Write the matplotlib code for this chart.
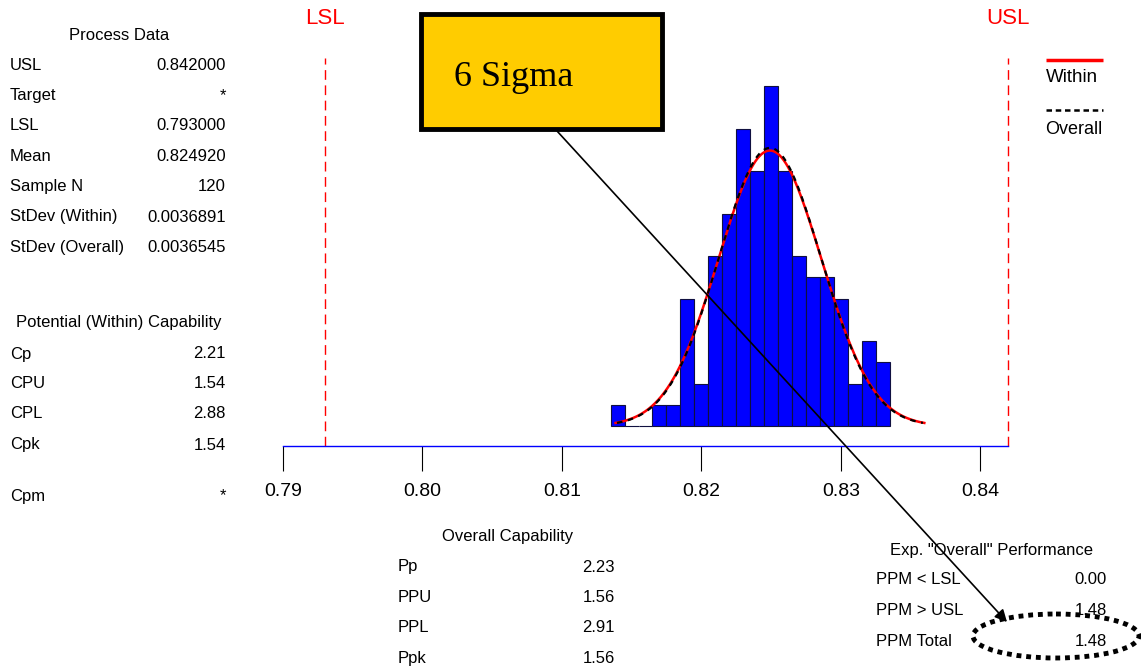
import numpy as np
import matplotlib
matplotlib.use("Agg")
import matplotlib.pyplot as plt
from matplotlib.patches import Rectangle, Ellipse

plt.rcParams['font.family'] = ['Liberation Sans', 'DejaVu Sans']

# ---------------- data ----------------
usl = 0.842
lsl = 0.793
mean = 0.824920
n_sample = 120
sd_within = 0.0036891
sd_overall = 0.0036545
bin_start = 0.8135
bin_width = 0.001
counts = [1, 0, 0, 1, 1, 6, 2, 8, 10, 14, 12, 16, 12, 8, 7, 7, 6, 2, 4, 3]
xticks = [0.79, 0.80, 0.81, 0.82, 0.83, 0.84]

process_labels = ["USL", "Target", "LSL", "Mean", "Sample N", "StDev (Within)", "StDev (Overall)"]
process_values = ["0.842000", "*", "0.793000", "0.824920", "120", "0.0036891", "0.0036545"]
within_labels = ["Cp", "CPU", "CPL", "Cpk", "Cpm"]
within_values = ["2.21", "1.54", "2.88", "1.54", "*"]
overall_labels = ["Pp", "PPU", "PPL", "Ppk"]
overall_values = ["2.23", "1.56", "2.91", "1.56"]
perf_labels = ["PPM < LSL", "PPM > USL", "PPM Total"]
perf_values = ["0.00", "1.48", "1.48"]

# ---------------- figure ----------------
W, H = 1141, 667
fig = plt.figure(figsize=(W / 100, H / 100), dpi=100)
fig.patch.set_facecolor('white')

x0_px, x1_px = 282.8, 1008.2
base_px, top_px, axis_px = 426.0, 10.0, 446.0
ppc = 21.23  # pixels per count
ax = fig.add_axes([x0_px / W, 1 - axis_px / H, (x1_px - x0_px) / W, (axis_px - top_px) / H])
ax.set_xlim(0.79, 0.842)
ax.set_ylim(-(axis_px - base_px) / ppc, (base_px - top_px) / ppc)
ax.patch.set_alpha(0)

lefts = bin_start + bin_width * np.arange(len(counts))
ax.bar(lefts, counts, width=bin_width, align='edge', color='#0000FF',
       edgecolor='#101040', linewidth=0.8, zorder=2)

scale = n_sample * bin_width
xs_w = np.linspace(mean - 3 * sd_within, mean + 3 * sd_within, 300)
ys_w = scale * np.exp(-0.5 * ((xs_w - mean) / sd_within) ** 2) / (sd_within * np.sqrt(2 * np.pi))
xs_o = np.linspace(mean - 3 * sd_overall, mean + 3 * sd_overall, 300)
ys_o = scale * np.exp(-0.5 * ((xs_o - mean) / sd_overall) ** 2) / (sd_overall * np.sqrt(2 * np.pi))
ax.plot(xs_w, ys_w, color='#FF0000', lw=1.8, zorder=3)
ax.plot(xs_o, ys_o, color='black', lw=1.6, linestyle=(0, (2.5, 2.5)), zorder=4)

ymin_axis = -(axis_px - base_px) / ppc
ax.vlines([lsl, usl], ymin_axis, (base_px - 58) / ppc, colors='#FF0000',
          linestyles=[(0, (7, 4))], linewidth=1.0, zorder=1, clip_on=False)
for v, t in [(lsl, "LSL"), (usl, "USL")]:
    ax.text(v, (base_px - 18) / ppc, t, color='#FF0000', ha='center', va='center', fontsize=16)

for s in ['top', 'left', 'right']:
    ax.spines[s].set_visible(False)
ax.spines['bottom'].set_color('#0000FF')
ax.spines['bottom'].set_linewidth(1.0)
ax.set_yticks([])
ax.set_xticks(xticks)
ax.set_xticklabels([f"{t:.2f}" for t in xticks])
ax.tick_params(axis='x', length=18, width=0.8, color='black', labelsize=14, pad=9)

# ---------------- overlay for text / annotations ----------------
ov = fig.add_axes([0, 0, 1, 1], zorder=5)
ov.set_xlim(0, W)
ov.set_ylim(H, 0)
ov.axis('off')
ov.patch.set_alpha(0)

fs = 12
ov.text(119, 35, "Process Data", ha='center', va='center', fontsize=fs)
for i, (lab, val) in enumerate(zip(process_labels, process_values)):
    y = 65 + i * 30.4
    ov.text(10, y, lab, ha='left', va='center', fontsize=fs)
    ov.text(226, y, val, ha='right', va='center', fontsize=fs)

ov.text(119, 323, "Potential (Within) Capability", ha='center', va='center', fontsize=fs)
w_y = [354, 384, 414, 445, 496]
for lab, val, y in zip(within_labels, within_values, w_y):
    ov.text(10, y, lab, ha='left', va='center', fontsize=fs)
    ov.text(226, y, val, ha='right', va='center', fontsize=fs)

ov.text(508, 537, "Overall Capability", ha='center', va='center', fontsize=fs)
for i, (lab, val) in enumerate(zip(overall_labels, overall_values)):
    y = 567 + i * 30.4
    ov.text(398, y, lab, ha='left', va='center', fontsize=fs)
    ov.text(615, y, val, ha='right', va='center', fontsize=fs)

ov.text(991, 550, 'Exp. "Overall" Performance', ha='center', va='center', fontsize=fs)
for i, (lab, val) in enumerate(zip(perf_labels, perf_values)):
    y = 580 + i * 30.5
    ov.text(876, y, lab, ha='left', va='center', fontsize=fs)
    ov.text(1107, y, val, ha='right', va='center', fontsize=fs)

# legend
ov.plot([1046, 1103], [60, 60], color='#FF0000', lw=2.5, solid_capstyle='butt')
ov.text(1046, 77, "Within", ha='left', va='center', fontsize=13.5)
ov.plot([1046, 1103], [110, 110], color='black', lw=1.8, linestyle=(0, (2.2, 1.5)))
ov.text(1045, 129, "Overall", ha='left', va='center', fontsize=13)

# 6 Sigma callout
ov.add_patch(Rectangle((421, 14), 241, 115, facecolor='#FFCC00', edgecolor='black', linewidth=3.5, zorder=6))
ov.text(454, 77, "6 Sigma", ha='left', va='center', fontsize=26,
        family=['Liberation Serif', 'DejaVu Serif'], zorder=7)
ov.annotate('', xy=(1007, 622), xytext=(557, 131),
            arrowprops=dict(arrowstyle='-|>', color='black', lw=1.2, mutation_scale=18,
                            shrinkA=0, shrinkB=0), zorder=6)
ov.add_patch(Ellipse((1056, 636), 166, 44, fill=False, edgecolor='black', linewidth=3.5,
                     linestyle=(0, (1, 1)), zorder=6))

fig.savefig("out.png", dpi=100)
